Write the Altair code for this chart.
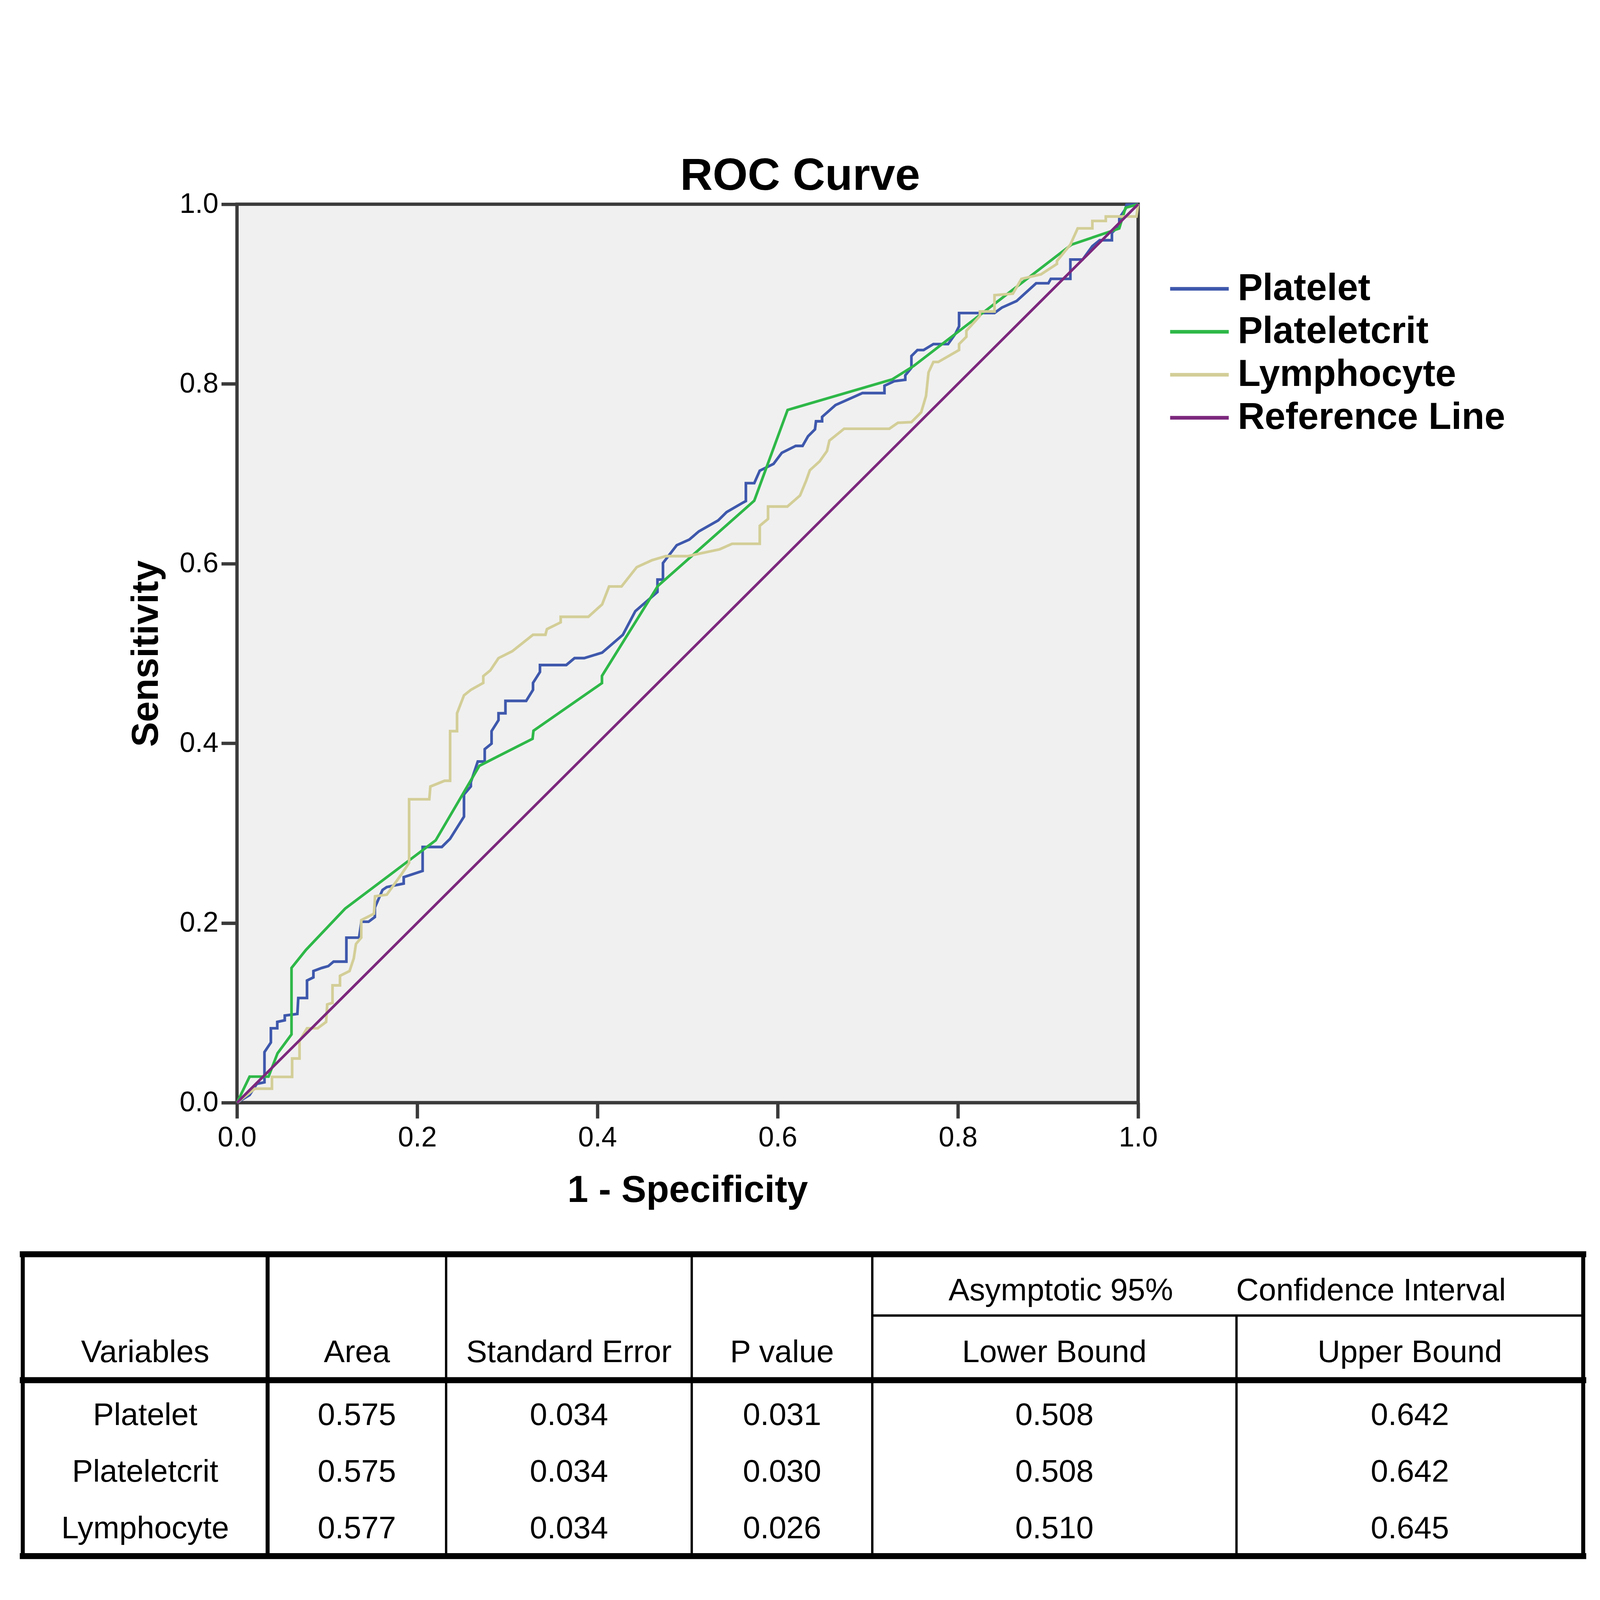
import altair as alt
import pandas as pd

# ---------------- ROC curve data ----------------
platelet_x = [0, 0.014, 0.022, 0.0305, 0.0305, 0.0376, 0.0376, 0.0447, 0.0447, 0.053, 0.053, 0.067, 0.068, 0.0777,
              0.0777, 0.0848, 0.0848, 0.0942, 0.1013, 0.1072, 0.1214, 0.1214, 0.1355, 0.138, 0.146, 0.153, 0.153,
              0.1615, 0.1662, 0.185, 0.185, 0.206, 0.206, 0.2273, 0.2365, 0.2519, 0.2519, 0.2595, 0.2595, 0.2672,
              0.2749, 0.2749, 0.2825, 0.2825, 0.2902, 0.2902, 0.2979, 0.2979, 0.3209, 0.3285, 0.3285, 0.3362,
              0.3362, 0.3654, 0.3746, 0.3853, 0.4052, 0.4282, 0.442, 0.4666, 0.4666, 0.4727, 0.4727, 0.488,
              0.5019, 0.5126, 0.534, 0.5433, 0.5617, 0.5647, 0.5647, 0.574, 0.5801, 0.5954, 0.6046, 0.62, 0.6276,
              0.6337, 0.6414, 0.6425, 0.6493, 0.6493, 0.6642, 0.6941, 0.7185, 0.7185, 0.7293, 0.7416, 0.7416,
              0.7484, 0.7484, 0.7551, 0.7619, 0.7728, 0.7891, 0.7972, 0.8013, 0.8013, 0.8406, 0.8488, 0.8651,
              0.8868, 0.9004, 0.9031, 0.9248, 0.9248, 0.9384, 0.9492, 0.9574, 0.9709, 0.9709, 0.9791, 0.9791,
              0.9859, 0.9872, 1.0]
platelet_y = [0, 0.0085, 0.021, 0.0227, 0.0563, 0.067, 0.0828, 0.0828, 0.0899, 0.0917, 0.097, 0.0988, 0.1165, 0.1165,
              0.136, 0.1395, 0.1465, 0.150, 0.152, 0.157, 0.157, 0.1837, 0.1837, 0.2014, 0.2014, 0.2067, 0.2173,
              0.2368, 0.240, 0.2439, 0.251, 0.258, 0.2846, 0.2846, 0.2938, 0.3184, 0.343, 0.352, 0.3567, 0.3797,
              0.3797, 0.3935, 0.3997, 0.4135, 0.4258, 0.4334, 0.4334, 0.4472, 0.4472, 0.4595, 0.4672, 0.4794,
              0.4871, 0.4871, 0.4948, 0.4948, 0.5009, 0.5208, 0.547, 0.5684, 0.5822, 0.5822, 0.6006, 0.6205,
              0.6267, 0.6359, 0.6481, 0.6573, 0.668, 0.6696, 0.6895, 0.6895, 0.7034, 0.711, 0.7233, 0.731, 0.731,
              0.7417, 0.7494, 0.7584, 0.7584, 0.7633, 0.7765, 0.7898, 0.7898, 0.798, 0.803, 0.8046, 0.8096,
              0.8178, 0.831, 0.8377, 0.8377, 0.8443, 0.8443, 0.8558, 0.8641, 0.8789, 0.8789, 0.8849, 0.8922,
              0.912, 0.912, 0.9169, 0.9169, 0.9384, 0.9384, 0.9533, 0.9599, 0.9599, 0.9681, 0.9764, 0.9847,
              0.9946, 0.9995, 1.0]

plateletcrit_x = [0, 0.014, 0.035, 0.045, 0.0605, 0.0605, 0.0765, 0.120, 0.2205, 0.269, 0.328, 0.329, 0.405, 0.405,
                  0.467, 0.574, 0.611, 0.727, 0.751, 0.926, 0.979, 0.986, 1.0]
plateletcrit_y = [0, 0.029, 0.029, 0.055, 0.076, 0.150, 0.170, 0.216, 0.292, 0.375, 0.405, 0.414, 0.467, 0.475,
                  0.575, 0.670, 0.771, 0.805, 0.820, 0.955, 0.973, 0.996, 1.0]

lymphocyte_x = [0, 0.0199, 0.0388, 0.0388, 0.0612, 0.0612, 0.0694, 0.0694, 0.0777, 0.0895, 0.0989, 0.1001, 0.106,
                0.106, 0.1143, 0.1143, 0.1249, 0.1296, 0.132, 0.1379, 0.1379, 0.152, 0.1532, 0.1662, 0.1827, 0.191,
                0.191, 0.2134, 0.2146, 0.2304, 0.2365, 0.2365, 0.2442, 0.2442, 0.2519, 0.2595, 0.2733, 0.2733,
                0.281, 0.2902, 0.3055, 0.3285, 0.3423, 0.3439, 0.3592, 0.3592, 0.3899, 0.4052, 0.4129, 0.4267,
                0.4436, 0.4604, 0.4758, 0.5003, 0.5356, 0.5494, 0.5801, 0.5801, 0.5893, 0.5893, 0.6107, 0.6248,
                0.6316, 0.6357, 0.6466, 0.6547, 0.6574, 0.6737, 0.7239, 0.7334, 0.7484, 0.7592, 0.7646, 0.7674,
                0.7728, 0.7782, 0.8013, 0.8013, 0.8094, 0.8094, 0.8244, 0.8244, 0.8406, 0.8406, 0.861, 0.8705,
                0.8922, 0.9099, 0.9099, 0.9248, 0.9329, 0.9492, 0.9492, 0.9641, 0.9641, 0.9981, 1.0]
lymphocyte_y = [0, 0.0156, 0.0156, 0.0287, 0.0287, 0.0492, 0.0492, 0.0687, 0.0828, 0.0828, 0.0899, 0.1094, 0.1111,
                0.1306, 0.1306, 0.1412, 0.1465, 0.1607, 0.1766, 0.1837, 0.2032, 0.2103, 0.2297, 0.2315, 0.2545,
                0.2669, 0.3377, 0.3377, 0.3519, 0.3583, 0.3583, 0.4135, 0.4135, 0.4334, 0.4534, 0.4595, 0.4672,
                0.4748, 0.481, 0.4948, 0.5025, 0.5208, 0.5208, 0.527, 0.5346, 0.5408, 0.5408, 0.5546, 0.5745,
                0.5745, 0.596, 0.6037, 0.6083, 0.6083, 0.6159, 0.622, 0.622, 0.642, 0.6497, 0.6635, 0.6635, 0.6758,
                0.6923, 0.7039, 0.7138, 0.7253, 0.7369, 0.7501, 0.7501, 0.7567, 0.7574, 0.7683, 0.7865, 0.8129,
                0.8244, 0.8244, 0.8377, 0.8443, 0.8525, 0.8591, 0.8757, 0.8806, 0.8806, 0.8988, 0.9004, 0.9169,
                0.9219, 0.9335, 0.9368, 0.955, 0.9731, 0.9731, 0.9814, 0.9814, 0.9863, 0.9863, 1.0]

reference_x = [0, 1]
reference_y = [0, 1]

series_names = ["Platelet", "Plateletcrit", "Lymphocyte", "Reference Line"]
series_colors = ["#3E58AC", "#2EB848", "#D3CE97", "#7C287D"]
axis_ticks = [0.0, 0.2, 0.4, 0.6, 0.8, 1.0]

# ---------------- table values ----------------
table_variables = ["Platelet", "Plateletcrit", "Lymphocyte"]
table_area = ["0.575", "0.575", "0.577"]
table_se = ["0.034", "0.034", "0.034"]
table_p = ["0.031", "0.030", "0.026"]
table_lower = ["0.508", "0.508", "0.510"]
table_upper = ["0.642", "0.642", "0.645"]
table_headers = ["Variables", "Area", "Standard Error", "P value", "Lower Bound", "Upper Bound"]
table_span_headers = ["Asymptotic 95%", "Confidence Interval"]

# ---------------- layout constants (table in 0..1 table units) ----------------
col_edges = [0.0, 0.1569, 0.2713, 0.4287, 0.5444, 0.7778, 1.0]
span_text_x = [0.6652, 0.8640]
line_top, line_span, line_head, line_bottom = 0.0, 0.2031, 0.4172, 1.0
span_row_base = 0.1523
head_row_base = 0.3576
data_row_base = [0.5662, 0.7539, 0.9404]

W, H = 2705, 2697
FONT = "Liberation Sans"

# ---------------- build frames ----------------
rows = []
for name, xs, ys in zip(series_names,
                        [platelet_x, plateletcrit_x, lymphocyte_x, reference_x],
                        [platelet_y, plateletcrit_y, lymphocyte_y, reference_y]):
    for i, (a, b) in enumerate(zip(xs, ys)):
        rows.append({"series": name, "fpr": a, "tpr": b, "idx": i})
roc = pd.DataFrame(rows)

centers = [(col_edges[i] + col_edges[i + 1]) / 2 for i in range(6)]
cells = []
for t, x in zip(table_span_headers, span_text_x):
    cells.append({"tx": x, "ty": span_row_base, "label": t})
for t, x in zip(table_headers, centers):
    cells.append({"tx": x, "ty": head_row_base, "label": t})
cols = [table_variables, table_area, table_se, table_p, table_lower, table_upper]
for r in range(3):
    for c in range(6):
        cells.append({"tx": centers[c], "ty": data_row_base[r], "label": cols[c][r]})
cells = pd.DataFrame(cells)

thick = pd.DataFrame([
    {"x1": 0, "x2": 1, "y1": line_top, "y2": line_top},
    {"x1": 0, "x2": 1, "y1": line_head, "y2": line_head},
    {"x1": 0, "x2": 1, "y1": line_bottom, "y2": line_bottom},
])
medium = pd.DataFrame([
    {"x1": col_edges[0], "x2": col_edges[0], "y1": line_top, "y2": line_bottom},
    {"x1": col_edges[6], "x2": col_edges[6], "y1": line_top, "y2": line_bottom},
    {"x1": col_edges[1], "x2": col_edges[1], "y1": line_top, "y2": line_bottom},
])
thin = pd.DataFrame([
    {"x1": col_edges[2], "x2": col_edges[2], "y1": line_top, "y2": line_bottom},
    {"x1": col_edges[3], "x2": col_edges[3], "y1": line_top, "y2": line_bottom},
    {"x1": col_edges[4], "x2": col_edges[4], "y1": line_top, "y2": line_bottom},
    {"x1": col_edges[5], "x2": col_edges[5], "y1": line_span, "y2": line_bottom},
    {"x1": col_edges[4], "x2": col_edges[6], "y1": line_span, "y2": line_span},
])

# ---------------- ROC layer ----------------
x_axis = alt.Axis(values=axis_ticks, format=".1f", title="1 - Specificity",
                  titleFont=FONT, titleFontSize=112, titleFontWeight="bold", titleColor="black",
                  titleX=W / 2, titleY=298, titleBaseline="alphabetic", titleAlign="center",
                  labelFont=FONT, labelFontSize=84, labelColor="black", labelPadding=18,
                  labelFlush=False, labelOverlap=False,
                  tickSize=47, tickWidth=10, tickColor="#3a3a3a", domain=False, grid=False)
y_axis = alt.Axis(values=axis_ticks, format=".1f", title="Sensitivity",
                  titleFont=FONT, titleFontSize=112, titleFontWeight="bold", titleColor="black",
                  titleX=-238, titleY=H / 2, titleAngle=270, titleBaseline="alphabetic", titleAlign="center",
                  labelFont=FONT, labelFontSize=84, labelColor="black", labelPadding=9,
                  labelFlush=False, labelOverlap=False,
                  tickSize=47, tickWidth=10, tickColor="#3a3a3a", domain=False, grid=False)

lines = alt.Chart(roc).mark_line(strokeWidth=8, interpolate="linear").encode(
    x=alt.X("fpr:Q", scale=alt.Scale(domain=[0, 1], nice=False, zero=False), axis=x_axis),
    y=alt.Y("tpr:Q", scale=alt.Scale(domain=[0, 1], nice=False, zero=False), axis=y_axis),
    color=alt.Color("series:N", scale=alt.Scale(domain=series_names, range=series_colors),
                    legend=alt.Legend(title=None, orient="none", legendX=2833, legendY=198,
                                      symbolType="M-8.8,0H8.8", symbolSize=400, symbolStrokeWidth=11,
                                      labelFont=FONT, labelFontSize=112, labelFontWeight="bold",
                                      labelColor="black", labelOffset=59, rowPadding=17,
                                      labelLimit=3000, padding=0)),
    order="idx:Q",
)

# ---------------- table layers ----------------
tx = alt.Scale(domain=[0, 1], range=[-643, 4041], nice=False, zero=False)
ty = alt.Scale(domain=[0, 1], range=[3152, 4058], nice=False, zero=False)


def rule_layer(df, width, cap):
    return alt.Chart(df).mark_rule(strokeWidth=width, color="black", strokeCap=cap).encode(
        x=alt.X("x1:Q", scale=tx, axis=None), x2="x2:Q",
        y=alt.Y("y1:Q", scale=ty, axis=None), y2="y2:Q")


texts = alt.Chart(cells).mark_text(font=FONT, fontSize=94, color="black", align="center",
                                   baseline="alphabetic").encode(
    x=alt.X("tx:Q", scale=tx, axis=None),
    y=alt.Y("ty:Q", scale=ty, axis=None),
    text="label:N")

chart = alt.layer(
    lines,
    rule_layer(thin, 7, "butt"),
    rule_layer(medium, 12, "square"),
    rule_layer(thick, 18, "square"),
    texts,
).resolve_scale(x="independent", y="independent").properties(
    width=W, height=H,
    title=alt.TitleParams("ROC Curve", font=FONT, fontSize=135, fontWeight="bold", color="black",
                          anchor="middle", dx=338, offset=-27),
    autosize=alt.AutoSizeParams(type="none"),
    padding={"left": 702, "top": 232, "right": 1377, "bottom": 1378},
).configure_view(fill="#F0F0F0", stroke="#3a3a3a", strokeWidth=10)

chart.save("out.html", embed_options={"renderer": "svg", "actions": False})
